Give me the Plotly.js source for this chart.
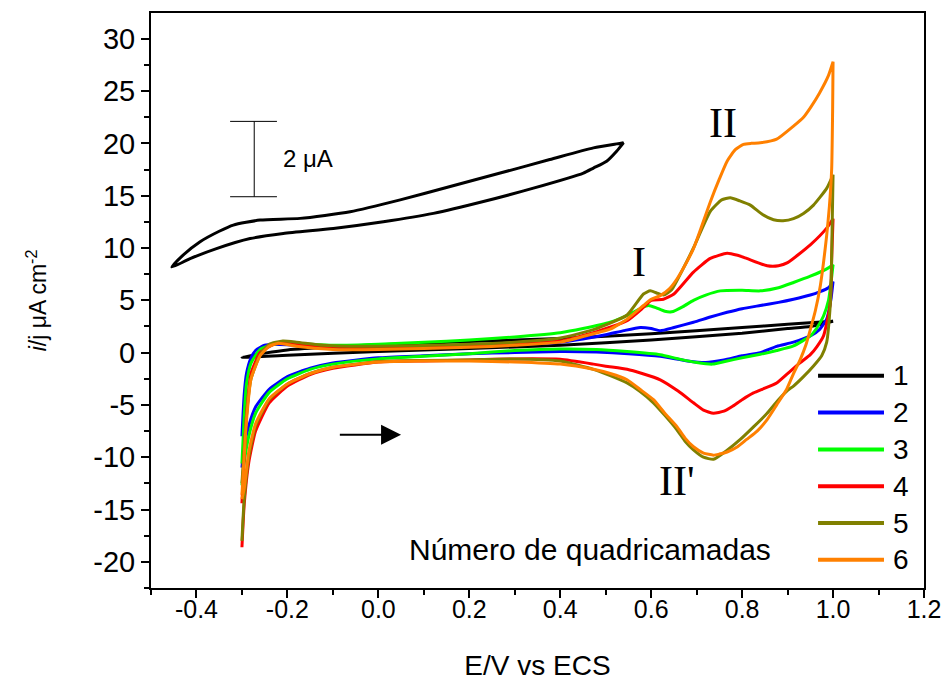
<!DOCTYPE html>
<html>
<head>
<meta charset="utf-8">
<script src="https://cdn.plot.ly/plotly-3.0.1.min.js"></script>
<style>html,body{margin:0;padding:0;background:#fff;}#chart{width:949px;height:686px;}</style>
</head>
<body>
<div id="chart"></div>
<script>
// ---------- data ----------
const seriesNames = ["1", "2", "3", "4", "5", "6"];
const seriesColors = ["#000000", "#0000FF", "#00FF00", "#FF0000", "#808000", "#FF8000"];

const xTickVals = [-0.4, -0.2, 0.0, 0.2, 0.4, 0.6, 0.8, 1.0, 1.2];
const xTickText = ["-0.4", "-0.2", "0.0", "0.2", "0.4", "0.6", "0.8", "1.0", "1.2"];
const yTickVals = [-20, -15, -10, -5, 0, 5, 10, 15, 20, 25, 30];
const yTickText = ["-20", "-15", "-10", "-5", "0", "5", "10", "15", "20", "25", "30"];

// 1 layer
const cv1_fwd_E = [-0.300,-0.270,-0.250,-0.200,-0.100,0.000,0.200,0.400,0.600,0.800,0.900,1.000];
const cv1_fwd_j = [-0.45,-0.2,-0.05,0.25,0.55,0.75,1.05,1.35,1.8,2.4,2.7,3.0];
const cv1_rev_E = [1.000,0.950,0.900,0.800,0.600,0.400,0.200,0.000,-0.200,-0.300];
const cv1_rev_j = [3.0,2.5,2.3,1.85,1.2,0.7,0.4,0.1,-0.25,-0.45];

// 2 layers
const cv2_fwd_E = [-0.300,-0.295,-0.290,-0.280,-0.270,-0.250,-0.230,-0.200,-0.150,-0.100,0.000,0.100,0.200,0.300,0.400,0.450,0.500,0.540,0.576,0.600,0.620,0.650,0.693,0.730,0.767,0.800,0.840,0.880,0.913,0.950,0.970,0.990,1.000];
const cv2_fwd_j = [-8.0,-4.0,-2.0,-0.5,0.2,0.7,0.8,0.75,0.6,0.5,0.5,0.6,0.7,0.8,1.0,1.3,1.7,2.1,2.4,2.3,2.1,2.4,2.9,3.4,3.85,4.2,4.5,4.8,5.1,5.5,5.8,6.2,6.8];
const cv2_rev_E = [1.000,0.995,0.986,0.970,0.950,0.913,0.876,0.840,0.800,0.760,0.720,0.680,0.620,0.550,0.480,0.400,0.300,0.200,0.100,0.000,-0.100,-0.150,-0.200,-0.240,-0.270,-0.285,-0.295,-0.300];
const cv2_rev_j = [6.8,5.0,3.2,2.2,1.6,1.0,0.6,0.0,-0.3,-0.7,-0.95,-0.8,-0.35,-0.1,0.05,0.1,0.0,-0.1,-0.3,-0.5,-1.0,-1.5,-2.3,-3.5,-5.2,-7.0,-9.0,-11.0];

// 3 layers
const cv3_fwd_E = [-0.300,-0.295,-0.290,-0.280,-0.260,-0.230,-0.200,-0.100,0.000,0.100,0.200,0.300,0.400,0.450,0.510,0.550,0.580,0.594,0.610,0.630,0.645,0.670,0.693,0.720,0.752,0.800,0.840,0.880,0.913,0.950,0.986,1.000];
const cv3_fwd_j = [-10.6,-6.0,-3.0,-1.0,0.3,0.8,0.9,0.7,0.8,1.0,1.2,1.5,1.9,2.3,2.9,3.6,4.3,4.5,4.3,3.95,3.9,4.4,5.0,5.5,5.9,5.95,5.9,6.2,6.7,7.3,8.0,8.4];
const cv3_rev_E = [1.000,0.995,0.990,0.979,0.965,0.950,0.913,0.876,0.840,0.800,0.767,0.735,0.700,0.660,0.620,0.547,0.480,0.400,0.300,0.200,0.100,0.000,-0.100,-0.150,-0.200,-0.240,-0.270,-0.285,-0.295,-0.300];
const cv3_rev_j = [8.4,6.5,5.0,3.5,2.4,1.6,0.64,0.2,-0.16,-0.5,-0.8,-1.1,-0.95,-0.6,-0.2,0.1,0.3,0.35,0.2,-0.1,-0.35,-0.6,-1.1,-1.6,-2.5,-3.8,-5.8,-8.0,-10.5,-12.7];

// 4 layers
const cv4_fwd_E = [-0.300,-0.290,-0.280,-0.260,-0.230,-0.200,-0.150,-0.100,0.000,0.200,0.300,0.400,0.473,0.547,0.580,0.600,0.627,0.650,0.693,0.730,0.767,0.790,0.810,0.855,0.880,0.900,0.950,0.986,1.000];
const cv4_fwd_j = [-14.4,-6.0,-2.0,0.0,0.8,0.9,0.6,0.5,0.5,0.6,0.8,1.1,1.9,3.05,4.2,5.0,5.1,5.6,7.7,9.0,9.5,9.3,9.0,8.3,8.3,8.6,10.3,11.9,12.8];
const cv4_rev_E = [1.000,0.997,0.994,0.985,0.979,0.965,0.950,0.928,0.900,0.876,0.850,0.825,0.800,0.780,0.760,0.737,0.715,0.693,0.660,0.620,0.580,0.547,0.500,0.473,0.400,0.300,0.200,0.100,0.000,-0.100,-0.150,-0.200,-0.240,-0.270,-0.285,-0.295,-0.300];
const cv4_rev_j = [12.8,9.0,4.8,2.6,1.6,0.6,-0.2,-0.96,-2.0,-2.9,-3.4,-3.85,-4.5,-5.1,-5.6,-5.8,-5.5,-4.8,-3.7,-2.6,-2.0,-1.6,-1.3,-1.1,-0.64,-0.6,-0.7,-0.8,-0.9,-1.5,-2.1,-3.2,-4.8,-7.5,-10.5,-14.5,-18.6];

// 5 layers
const cv5_fwd_E = [-0.300,-0.290,-0.280,-0.260,-0.240,-0.210,-0.180,-0.120,0.000,0.200,0.300,0.400,0.473,0.547,0.583,0.598,0.612,0.627,0.645,0.670,0.693,0.730,0.755,0.774,0.795,0.818,0.845,0.869,0.890,0.913,0.935,0.957,0.986,1.000];
const cv5_fwd_j = [-12.5,-6.0,-2.5,-0.2,0.8,1.1,1.0,0.7,0.6,0.8,1.0,1.4,2.2,3.6,5.6,5.9,5.7,5.5,6.0,8.0,10.0,13.5,14.6,14.8,14.5,14.1,13.2,12.7,12.6,12.8,13.3,14.1,15.7,17.0];
const cv5_rev_E = [1.000,0.998,0.996,0.993,0.986,0.975,0.957,0.935,0.913,0.900,0.880,0.855,0.825,0.796,0.765,0.737,0.715,0.693,0.675,0.657,0.630,0.605,0.575,0.547,0.510,0.473,0.400,0.300,0.200,0.100,0.000,-0.100,-0.150,-0.200,-0.240,-0.270,-0.285,-0.295,-0.300];
const cv5_rev_j = [17.0,12.0,7.0,4.0,1.0,-0.3,-1.28,-2.3,-3.2,-3.6,-4.5,-5.8,-7.1,-8.3,-9.4,-10.2,-10.0,-9.3,-8.5,-7.4,-6.0,-4.8,-3.7,-2.9,-2.2,-1.6,-0.8,-0.6,-0.7,-0.75,-0.85,-1.4,-2.0,-3.0,-4.5,-7.0,-10.0,-14.0,-18.0];

// 6 layers
const cv6_fwd_E = [-0.300,-0.290,-0.280,-0.260,-0.240,-0.220,-0.180,-0.100,0.000,0.200,0.300,0.400,0.473,0.510,0.547,0.583,0.600,0.620,0.640,0.657,0.675,0.693,0.712,0.730,0.750,0.767,0.785,0.803,0.820,0.840,0.876,0.913,0.935,0.950,0.970,0.990,1.000];
const cv6_fwd_j = [-13.6,-6.5,-2.5,-0.3,0.6,0.9,0.6,0.3,0.3,0.5,0.7,1.0,1.8,2.24,3.2,4.5,5.1,5.45,6.1,7.06,8.4,9.94,12.2,14.4,16.6,18.3,19.4,19.9,20.0,20.05,20.4,21.65,22.5,23.4,24.8,26.5,27.8];
const cv6_rev_E = [1.000,0.999,0.997,0.992,0.986,0.979,0.972,0.961,0.950,0.940,0.928,0.913,0.898,0.876,0.855,0.833,0.810,0.790,0.767,0.750,0.737,0.715,0.693,0.675,0.657,0.630,0.605,0.575,0.547,0.510,0.473,0.400,0.300,0.200,0.100,0.000,-0.100,-0.150,-0.200,-0.240,-0.270,-0.285,-0.295,-0.300];
const cv6_rev_j = [27.8,23.0,17.6,14.0,11.2,8.6,6.4,4.0,2.2,0.7,-0.64,-2.0,-3.5,-5.0,-6.4,-7.5,-8.3,-9.0,-9.5,-9.7,-9.8,-9.6,-9.0,-8.2,-7.1,-5.8,-4.5,-3.5,-2.6,-2.0,-1.6,-1.1,-0.9,-0.8,-0.8,-0.9,-1.4,-2.0,-3.0,-4.4,-6.8,-9.5,-13.0,-14.0];

// inset loop (scale-bar reference CV)
const inset_up_E = [-0.454,-0.430,-0.392,-0.350,-0.319,-0.260,-0.172,-0.062,0.048,0.158,0.268,0.377,0.473,0.524,0.539];
const inset_up_j = [8.18,9.3,10.6,11.6,12.19,12.67,12.83,13.47,14.6,15.88,17.16,18.45,19.57,19.95,20.05];
const inset_dn_E = [0.539,0.524,0.502,0.473,0.451,0.341,0.231,0.121,0.011,-0.099,-0.209,-0.282,-0.356,-0.414,-0.454];
const inset_dn_j = [20.05,19.25,18.29,17.64,17.16,15.72,14.44,13.31,12.51,11.87,11.39,10.9,9.94,8.98,8.18];

// scale bar (2 µA) and labels
const scaleBarE = -0.273, scaleBarLow = 14.9, scaleBarHigh = 22.1;
const peakLabels = ["I", "II", "II'"];
const peakE = [0.574, 0.759, 0.657];
const peakJ = [8.66, 21.9, -12.3];

// ---------- build ----------
const fwdE = [cv1_fwd_E, cv2_fwd_E, cv3_fwd_E, cv4_fwd_E, cv5_fwd_E, cv6_fwd_E];
const fwdJ = [cv1_fwd_j, cv2_fwd_j, cv3_fwd_j, cv4_fwd_j, cv5_fwd_j, cv6_fwd_j];
const revE = [cv1_rev_E, cv2_rev_E, cv3_rev_E, cv4_rev_E, cv5_rev_E, cv6_rev_E];
const revJ = [cv1_rev_j, cv2_rev_j, cv3_rev_j, cv4_rev_j, cv5_rev_j, cv6_rev_j];

const traces = [];
traces.push({
  x: inset_up_E.concat(inset_dn_E), y: inset_up_j.concat(inset_dn_j),
  mode: 'lines', line: {color: '#000000', width: 3, shape: 'spline', smoothing: 0.6},
  showlegend: false, hoverinfo: 'skip'
});
for (let i = 0; i < seriesNames.length; i++) {
  traces.push({
    name: seriesNames[i],
    x: fwdE[i].concat(revE[i]), y: fwdJ[i].concat(revJ[i]),
    mode: 'lines', line: {color: seriesColors[i], width: 3, shape: 'spline', smoothing: 0.5},
    showlegend: false
  });
}

const FONT = 'Liberation Sans, Arial, sans-serif';

const shapes = [
  {type: 'line', xref: 'x', yref: 'y', x0: scaleBarE, x1: scaleBarE, y0: scaleBarLow, y1: scaleBarHigh, line: {color: '#000', width: 1}},
  {type: 'line', xref: 'x', yref: 'y', x0: scaleBarE - 0.053, x1: scaleBarE + 0.05, y0: scaleBarHigh, y1: scaleBarHigh, line: {color: '#000', width: 1}},
  {type: 'line', xref: 'x', yref: 'y', x0: scaleBarE - 0.053, x1: scaleBarE + 0.05, y0: scaleBarLow, y1: scaleBarLow, line: {color: '#000', width: 1}}
];
const annotations = [
  {xref: 'x', yref: 'y', x: scaleBarE + 0.058, y: 18.6, text: '2 \u03bcA', showarrow: false, xanchor: 'left', yanchor: 'middle', font: {family: FONT, size: 24, color: '#000'}},
  {xref: 'x', yref: 'y', x: 0.05, y: -7.86, ax: -0.088, ay: -7.86, axref: 'x', ayref: 'y', text: '', showarrow: true, arrowhead: 2, arrowsize: 2, arrowwidth: 2, arrowcolor: '#000'},
  {xref: 'x', yref: 'y', x: 0.465, y: -18.8, text: 'N\u00famero de quadricamadas', showarrow: false, xanchor: 'center', yanchor: 'middle', font: {family: FONT, size: 30, color: '#000'}}
];
for (let k = 0; k < peakLabels.length; k++) {
  annotations.push({xref: 'x', yref: 'y', x: peakE[k], y: peakJ[k], text: peakLabels[k], showarrow: false, xanchor: 'center', yanchor: 'middle', font: {family: 'Liberation Serif, Times New Roman, serif', size: 42, color: '#000'}});
}
// manual legend with long line samples
const legX0 = 0.967, legX1 = 1.112, legTop = -2.21, legStep = 3.52;
for (let i = 0; i < seriesNames.length; i++) {
  const yy = legTop - i * legStep;
  shapes.push({type: 'line', xref: 'x', yref: 'y', x0: legX0, x1: legX1, y0: yy, y1: yy, line: {color: seriesColors[i], width: 4}});
  annotations.push({xref: 'x', yref: 'y', x: legX1 + 0.016, y: yy, text: seriesNames[i], showarrow: false, xanchor: 'left', yanchor: 'middle', font: {family: FONT, size: 28, color: '#000'}});
}

const layout = {
  width: 949, height: 686,
  margin: {l: 151, r: 25, t: 13, b: 98},
  paper_bgcolor: '#fff', plot_bgcolor: '#fff',
  showlegend: false,
  xaxis: {
    range: [-0.5, 1.2], tickmode: 'array', tickvals: xTickVals, ticktext: xTickText,
    showgrid: false, zeroline: false,
    showline: true, linecolor: '#000', linewidth: 2, mirror: true,
    ticks: 'outside', ticklen: 8, tickwidth: 2, tickcolor: '#000',
    minor: {tickmode: 'linear', tick0: 0, dtick: 0.1, ticks: 'outside', ticklen: 5, tickwidth: 2, tickcolor: '#000'},
    tickfont: {family: FONT, size: 25, color: '#000'},
    ticklabelstandoff: -10,
    title: {text: 'E/V vs ECS', font: {family: FONT, size: 28, color: '#000'}, standoff: 33}
  },
  yaxis: {
    range: [-22.5, 32.46], tickmode: 'array', tickvals: yTickVals, ticktext: yTickText,
    showgrid: false, zeroline: false,
    showline: true, linecolor: '#000', linewidth: 2, mirror: true,
    ticks: 'outside', ticklen: 8, tickwidth: 2, tickcolor: '#000',
    minor: {tickmode: 'linear', tick0: 0, dtick: 2.5, ticks: 'outside', ticklen: 5, tickwidth: 2, tickcolor: '#000'},
    tickfont: {family: FONT, size: 29, color: '#000'},
    title: {text: '<i>i</i>/j \u03bcA cm<sup>-2</sup>', font: {family: FONT, size: 23, color: '#000'}, standoff: 40}
  },
  shapes: shapes,
  annotations: annotations
};

Plotly.newPlot('chart', traces, layout, {displayModeBar: false, staticPlot: true});
</script>
</body>
</html>
